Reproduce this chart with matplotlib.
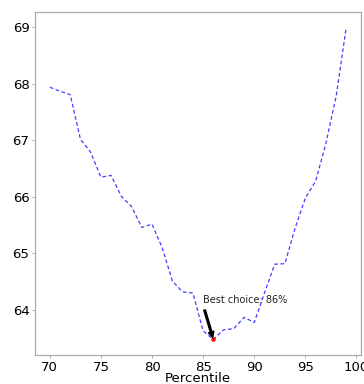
import numpy as np
import matplotlib
matplotlib.use('Agg')
import matplotlib.pyplot as plt

# percentile vs score
percentiles = np.arange(70, 100)
scores = [67.94, 67.87, 67.81, 67.02, 66.79, 66.35, 66.38, 66.01, 65.83, 65.46,
          65.52, 65.10, 64.51, 64.32, 64.30, 63.63, 63.48, 63.65, 63.67, 63.87,
          63.78, 64.30, 64.81, 64.82, 65.45, 65.98, 66.28, 66.94, 67.77, 69.00]

best_x = 86
best_y = 63.48
label = 'Best choice: 86%'
text_pos = (85, 64.12)

fig = plt.figure(figsize=(3.64, 3.84), dpi=100)
ax = fig.add_axes([0.096, 0.0755, 0.896, 0.894])

ax.plot(percentiles, scores, color='b', linewidth=0.9, alpha=0.75,
        linestyle=(0, (3, 2)))
ax.plot(best_x, best_y, 'o', color='red', markersize=2.2)
ax.annotate(label, xy=(best_x, best_y), xytext=text_pos, fontsize=7,
            color='#222222',
            arrowprops=dict(facecolor='black', edgecolor='black', width=1.2,
                            headwidth=4, headlength=4, shrink=0.06))

ax.set_xticks([70, 75, 80, 85, 90, 95, 100])
ax.set_yticks([64, 65, 66, 67, 68, 69])
ax.tick_params(labelsize=9.5, length=2.5, width=0.6, color='#999999', pad=1.5)
for s in ax.spines.values():
    s.set_color('#aaaaaa')
    s.set_linewidth(0.9)
ax.set_xlabel('Percentile', fontsize=9.5, labelpad=-1)

fig.savefig('out.png', dpi=100)
